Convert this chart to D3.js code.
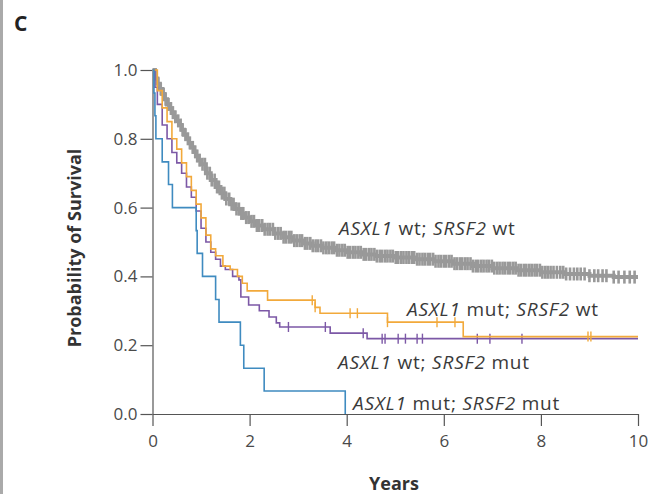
<!DOCTYPE html>
<html>
<head>
<meta charset="utf-8">
<script src="https://cdn.jsdelivr.net/npm/d3@7"></script>
<style>
  body { margin: 0; background: #fff; }
  svg { display: block; font-family: 'Open Sans', sans-serif; }
  .axis path, .axis line { stroke: #555; stroke-width: 1.2; }
  .axis text { fill: #4a4a4a; font-size: 17px; font-family: 'Open Sans', sans-serif; }
  .curve-label { fill: #3a3a3a; font-size: 19px; letter-spacing: 0.8px; }
</style>
</head>
<body>
<div id="chart"></div>
<script>
// year ticks / probability ticks
const xTicks = [0, 2, 4, 6, 8, 10];
const yTicks = [0.0, 0.2, 0.4, 0.6, 0.8, 1.0];

// ASXL1 wt; SRSF2 wt  (gray)
const wtwtSteps = [[0,1.0],[0.05,0.975],[0.1,0.96],[0.15,0.945],[0.2,0.93],[0.25,0.915],[0.3,0.9],[0.35,0.888],
  [0.4,0.876],[0.45,0.864],[0.5,0.852],[0.55,0.84],[0.6,0.826],[0.65,0.812],[0.7,0.8],[0.75,0.788],[0.8,0.775],
  [0.85,0.762],[0.9,0.75],[0.95,0.738],[1.0,0.726],[1.1,0.7],[1.2,0.68],[1.3,0.66],[1.4,0.642],[1.5,0.625],
  [1.6,0.61],[1.7,0.596],[1.8,0.583],[1.9,0.571],[2.0,0.56],[2.15,0.548],[2.3,0.537],[2.5,0.525],[2.7,0.514],
  [2.9,0.504],[3.1,0.496],[3.3,0.489],[3.5,0.483],[3.75,0.476],[4.0,0.47],[4.3,0.464],[4.6,0.459],[5.0,0.455],
  [5.4,0.45],[5.8,0.444],[6.2,0.437],[6.6,0.43],[7.0,0.424],[7.5,0.418],[8.0,0.412],[8.5,0.407],[9.0,0.402],[9.5,0.398]];
const wtwtCensor = [0.12,0.17,0.23,0.27,0.33,0.38,0.42,0.47,0.53,0.58,0.62,0.68,0.73,0.77,0.83,0.88,0.92,0.97,
  1.03,1.08,1.13,1.18,1.22,1.28,1.33,1.37,1.43,1.48,1.52,1.58,1.63,1.67,1.73,1.78,1.83,1.87,1.93,1.98,
  2.04,2.09,2.15,2.2,2.26,2.31,2.37,2.42,2.48,2.53,2.59,2.64,2.7,2.75,2.81,2.86,2.92,2.97,
  3.03,3.08,3.14,3.19,3.25,3.3,3.36,3.41,3.47,3.52,3.58,3.63,3.69,3.74,3.8,3.85,3.91,3.96,
  4.02,4.07,4.13,4.18,4.24,4.29,4.35,4.4,4.46,4.51,4.57,4.62,4.68,4.73,4.79,4.84,4.9,4.95,
  5.01,5.06,5.12,5.17,5.23,5.28,5.34,5.39,5.45,5.5,5.56,5.61,5.67,5.72,5.78,5.83,5.89,5.94,
  6.0,6.05,6.11,6.16,6.22,6.27,6.33,6.38,6.44,6.49,6.55,6.6,6.66,6.71,6.77,6.82,6.88,6.93,6.99,
  7.04,7.1,7.15,7.21,7.26,7.32,7.37,7.43,7.48,7.54,7.59,7.65,7.7,7.76,7.81,7.87,7.92,7.98,
  8.03,8.09,8.14,8.2,8.26,8.33,8.4,8.46,8.52,8.6,8.68,8.75,8.82,8.9,9.0,9.1,9.18,9.27,9.35,9.5,9.6,9.72,9.83,9.93];

// ASXL1 wt; SRSF2 mut  (purple)
const wtmutSteps = [[0,1.0],[0.05,0.95],[0.1,0.9],[0.2,0.84],[0.3,0.8],[0.4,0.76],[0.5,0.73],[0.6,0.7],[0.7,0.66],
  [0.8,0.63],[0.9,0.59],[1.0,0.54],[1.1,0.5],[1.2,0.47],[1.3,0.45],[1.4,0.43],[1.5,0.42],[1.65,0.4],[1.78,0.39],
  [1.82,0.34],[1.98,0.317],[2.2,0.3],[2.4,0.282],[2.55,0.265],[2.62,0.253],[3.66,0.235],[4.42,0.219]];
const wtmutCensor = [2.8,3.56,4.34,4.73,4.79,5.06,5.21,5.45,5.56,6.69,6.95,7.61];

// ASXL1 mut; SRSF2 wt  (orange)
const mutwtSteps = [[0,1.0],[0.1,0.94],[0.2,0.89],[0.3,0.85],[0.4,0.8],[0.5,0.77],[0.6,0.73],[0.7,0.69],[0.8,0.65],
  [0.9,0.61],[1.0,0.57],[1.1,0.52],[1.2,0.48],[1.3,0.46],[1.45,0.43],[1.6,0.42],[1.75,0.4],[1.85,0.38],[1.95,0.358],
  [2.37,0.331],[3.35,0.31],[3.45,0.293],[4.84,0.267],[6.4,0.225]];
const mutwtCensor = [3.29,3.35,4.07,4.22,4.84,5.86,6.23,8.97,9.03];

// ASXL1 mut; SRSF2 mut  (blue)
const mutmutSteps = [[0,1.0],[0.03,0.933],[0.05,0.867],[0.07,0.8],[0.2,0.733],[0.33,0.667],[0.41,0.6],[0.9,0.533],
  [0.92,0.467],[1.03,0.4],[1.3,0.333],[1.37,0.267],[1.81,0.2],[1.88,0.133],[2.3,0.067],[3.97,0.0]];

const width = 650, height = 494;
const svg = d3.select('#chart').append('svg')
    .attr('width', width)
    .attr('height', height);

const x = d3.scaleLinear().domain([0, 10]).range([152.5, 638]);
const y = d3.scaleLinear().domain([0, 1]).range([414, 70]);

// gray strip on the left edge
svg.append('rect').attr('x', 0).attr('y', 0).attr('width', 3).attr('height', height).attr('fill', '#aaa');

svg.append('text')
    .attr('x', 14).attr('y', 31)
    .style('font-size', '21px').style('font-weight', 700).style('fill', '#222')
    .text('C');

svg.append('g')
    .attr('class', 'axis')
    .attr('transform', 'translate(0,' + y(0) + ')')
    .call(d3.axisBottom(x).tickValues(xTicks).tickSize(12).tickSizeOuter(0).tickPadding(9).tickFormat(d3.format('d')));

svg.append('g')
    .attr('class', 'axis')
    .attr('transform', 'translate(' + x(0) + ',0)')
    .call(d3.axisLeft(y).tickValues(yTicks).tickSize(12).tickSizeOuter(0).tickPadding(3).tickFormat(d3.format('.1f')));

svg.append('text')
    .attr('transform', 'translate(81,248) rotate(-90)')
    .attr('text-anchor', 'middle')
    .style('font-size', '18px').style('font-weight', 700).style('fill', '#333')
    .text('Probability of Survival');

svg.append('text')
    .attr('x', 394).attr('y', 490)
    .attr('text-anchor', 'middle')
    .style('font-size', '18px').style('font-weight', 700).style('fill', '#333')
    .text('Years');

const stepLine = d3.line()
    .x(d => x(d[0]))
    .y(d => y(d[1]))
    .curve(d3.curveStepAfter);

// survival at time t from a step list
function survAt(steps, t) {
  let s = steps[0][1];
  steps.forEach(d => { if (d[0] <= t) s = d[1]; });
  return s;
}

function drawCurve(steps, censor, color, lineW, tickH, tickW) {
  const g = svg.append('g');
  const pts = steps.concat([[10, steps[steps.length - 1][1]]]);
  g.append('path')
    .datum(pts)
    .attr('d', stepLine)
    .attr('fill', 'none')
    .attr('stroke', color)
    .attr('stroke-width', lineW);
  g.selectAll('line')
    .data(censor)
    .enter().append('line')
    .attr('x1', d => x(d)).attr('x2', d => x(d))
    .attr('y1', d => y(survAt(steps, d)) - tickH / 2)
    .attr('y2', d => y(survAt(steps, d)) + tickH / 2)
    .attr('stroke', color)
    .attr('stroke-width', tickW);
}

drawCurve(wtwtSteps, wtwtCensor, '#999999', 4, 13, 2.6);
drawCurve(wtmutSteps, wtmutCensor, '#7c58a6', 1.6, 10, 1.4);
drawCurve(mutwtSteps, mutwtCensor, '#f2a93b', 1.6, 10, 1.4);
// blue ends at zero, no extension past last death
svg.append('path')
    .datum(mutmutSteps)
    .attr('d', stepLine)
    .attr('fill', 'none')
    .attr('stroke', '#3f8bc0')
    .attr('stroke-width', 1.6);

const labels = [
  { a: 'ASXL1', b: ' wt; ', c: 'SRSF2', d: ' wt', x: 339, y: 235 },
  { a: 'ASXL1', b: ' mut; ', c: 'SRSF2', d: ' wt', x: 407, y: 316 },
  { a: 'ASXL1', b: ' wt; ', c: 'SRSF2', d: ' mut', x: 338, y: 369 },
  { a: 'ASXL1', b: ' mut; ', c: 'SRSF2', d: ' mut', x: 353, y: 410 }
];

labels.forEach(l => {
  const t = svg.append('text').attr('class', 'curve-label').attr('x', l.x).attr('y', l.y);
  t.append('tspan').style('font-style', 'italic').text(l.a);
  t.append('tspan').text(l.b);
  t.append('tspan').style('font-style', 'italic').text(l.c);
  t.append('tspan').text(l.d);
});
</script>
</body>
</html>
